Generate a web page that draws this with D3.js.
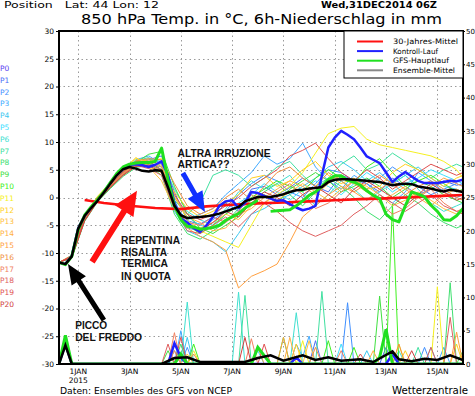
<!DOCTYPE html>
<html>
<head>
<meta charset="utf-8">
<script src="https://cdn.jsdelivr.net/npm/d3@7"></script>
<style>
  body { margin: 0; background: #fff; }
  svg { display: block; font-family: "DejaVu Sans", sans-serif; }
</style>
</head>
<body>
<div id="chart"></div>
<script>
// day offsets from 1 Jan 2015 00Z, run starts 31 Dec 06Z
const mainDays = d3.range(64).map(i => -0.75 + i * 0.25);      // 6-hourly
const memberDays = d3.range(32).map(i => -0.75 + i * 0.5).concat([15]); // 12-hourly

const tickDays = [0, 2, 4, 6, 8, 10, 12, 14];
const tickNames = ["1JAN", "3JAN", "5JAN", "7JAN", "9JAN", "11JAN", "13JAN", "15JAN"];
const tempTicks = [30, 25, 20, 15, 10, 5, 0, -5, -10, -15, -20, -25, -30];
const rainTicks = [50, 45, 40, 35, 30, 25, 20, 15, 10, 5, 0];

const climDays = [0.25, 1, 2, 3, 4, 5, 6, 7, 8, 9, 10, 11, 12, 13, 14, 15];
const climTemp = [-0.45, -1.0, -1.5, -1.9, -2.1, -1.6, -1.3, -1.05, -0.9, -0.7, -0.5, -0.3, -0.15, 0.05, 0.25, 0.45];

const tempGfs = [-11.7, -12.1, -10.6, -5.8, -3.2, -1.7, -0.4, 1.0, 2.7, 4.3, 5.5, 6.0, 6.2, 6.3, 6.3, 6.5,
  8.9, 3.2, -1.5, -4.0, -5.2, -5.3, -5.7, -5.6, -5.4, -5.0, -4.1, -3.5, -2.9, -1.9, -1.2, -0.5,
  null, -2.5, -2.4, -2.3, -2.2, -1.5, -0.6, 0.4, 1.0, 2.0, 3.2, 3.9, 3.9, 3.1, 2.8, 2.2,
  1.2, 0.4, -0.2, -3.0, -4.0, -4.4, -1.5, 1.0, 0.6, 0.1, -1.4, -2.5, -4.0, -4.1, -3.3, -2.0];
const tempControl = [-11.7, -12.0, -10.5, -5.5, -3.3, -1.8, -0.5, 1.0, 2.6, 4.2, 5.3, 5.9, 6.0, 5.8, 5.5, 5.9,
  6.5, 4.0, -1.0, -3.8, -4.5, -5.5, -6.2, -5.0, -3.5, -1.5, -0.7, -0.5, -1.9, -1.0, 1.0, 0.8,
  0.3, -0.2, -0.6, -0.5, -1.2, -1.8, -2.3, -2.0, -1.5, 4.0, 9.0, 10.8, 12.0, 11.3, 10.5, 9.0,
  7.4, 6.8, 6.2, 4.5, 2.8, 3.8, 4.6, 3.8, 3.0, 2.6, 2.6, 2.6, 2.8, 3.0, 2.9, 3.2];
const tempMean = [-11.7, -12.0, -10.6, -5.6, -3.3, -1.9, -0.6, 0.9, 2.5, 4.0, 5.1, 5.5, 5.2, 4.8, 4.7, 4.9,
  4.8, 1.8, -1.5, -3.2, -3.7, -3.6, -3.5, -3.4, -3.2, -2.9, -2.5, -2.1, -1.7, -0.7, -0.3, 0.1,
  0.1, 0.1, 0.3, 0.6, 1.0, 1.3, 1.4, 1.6, 1.7, 1.9, 2.8, 3.2, 3.3, 3.3, 3.2, 3.1,
  3.0, 2.9, 2.8, 2.5, 2.2, 2.4, 2.5, 2.4, 2.0, 1.8, 1.6, 1.3, 1.1, 1.4, 1.2, 1.0];

const tempP1 = [-11.7, -10.6, -3.8, -0.3, 2.2, 4.4, 6.0, 6.8, 7.5, 1.0, -4.2, -4.8, -3.5, -1.0, -2.5, 1.5, 2.0, 0.5, 1.8, 3.5, 2.0, 1.0, 4.0, 3.2, 2.5, 1.0, 3.5, 2.0, 0.5, 1.5, 3.0, 2.2, 2.5];
const tempP2 = [-11.7, -10.8, -4.0, -0.5, 2.0, 4.6, 6.5, 6.0, 5.5, -0.5, -5.5, -6.0, -4.0, -2.5, 0.5, 2.5, 4.0, 3.0, 1.0, 0.0, 2.5, 5.0, 4.5, 3.0, 1.5, 3.5, 5.5, 4.0, 2.0, 0.5, 1.5, 2.5, 2.0];
const tempP3 = [-11.7, -10.4, -3.5, 0.0, 2.4, 4.8, 6.8, 7.5, 6.0, -1.5, -4.0, -3.0, -2.0, 0.5, 2.5, 4.5, 7.5, 6.0, 7.0, 9.8, 5.5, 3.0, 1.5, 4.0, 2.5, 0.5, -1.0, 1.0, 4.5, 3.0, 1.0, 0.0, 0.5];
const tempP4 = [-11.7, -10.7, -4.2, -0.6, 1.8, 4.0, 5.8, 6.2, 4.5, -2.5, -6.0, -7.0, -8.0, -9.8, -6.5, -3.0, -2.0, -0.5, 0.5, 2.0, 3.5, 5.5, 6.5, 5.0, 3.0, 4.5, 2.5, 4.0, 5.5, 3.5, 2.0, 1.5, 1.0];
const tempP5 = [-11.7, -10.5, -3.6, -0.2, 2.3, 4.5, 6.2, 6.5, 5.0, 0.0, -3.5, -5.0, -5.5, -3.0, -1.0, 0.5, 2.5, 1.0, -0.5, 1.5, 3.0, 2.0, 0.5, 2.5, 4.5, 3.0, 1.0, 2.5, 3.5, 5.0, 4.0, 3.0, 2.5];
const tempP6 = [-11.7, -10.6, -3.9, -0.4, 2.1, 4.3, 6.1, 7.0, 6.5, 1.5, -2.5, -4.0, -5.0, -2.0, 1.0, 3.0, 1.5, 2.5, 4.0, 1.0, -1.5, 0.5, 3.0, 1.5, -0.5, 1.0, 2.5, 4.0, 1.5, -1.0, -2.5, -1.5, -1.0];
const tempP7 = [-11.7, -10.5, -3.4, 0.1, 2.6, 5.0, 6.6, 7.2, 5.5, -0.5, -3.0, -1.0, 4.0, 5.0, 4.0, 2.0, 3.5, 5.5, 6.5, 4.0, 2.0, 3.5, 6.0, 7.5, 5.0, 6.0, 8.0, 6.5, 5.0, 3.5, 5.0, 6.0, 5.5];
const tempP8 = [-11.7, -10.9, -4.3, -0.8, 1.6, 3.8, 5.4, 5.8, 4.0, -3.0, -6.5, -7.5, -6.0, -4.5, -2.0, -0.5, 1.0, 2.5, 0.5, -1.5, 1.0, 3.5, 2.0, 0.0, -2.5, -4.0, -1.5, 0.5, -1.0, -3.0, -4.5, -5.5, -5.0];
const tempP9 = [-11.7, -10.6, -3.7, -0.2, 2.2, 4.4, 6.3, 7.8, 8.3, 2.0, -3.0, -5.5, -6.5, -5.0, -3.5, -1.0, 0.5, -1.0, 1.5, 3.0, 4.5, 3.0, 1.0, 2.0, 3.5, 2.0, 0.0, 1.5, 3.0, 2.0, 0.5, -0.5, -1.0];
const tempP10 = [-11.7, -10.7, -4.0, -0.5, 2.0, 4.2, 5.9, 6.0, 5.0, -1.0, -5.0, -6.5, -5.0, -3.0, -1.5, 0.0, 1.5, 3.0, 2.0, 1.0, 3.5, 5.0, 3.5, 2.5, 5.5, 7.0, 4.5, 2.0, 3.0, 4.0, 2.5, 1.0, 1.5];
const tempP11 = [-11.7, -10.4, -3.3, 0.2, 2.7, 5.2, 7.0, 6.5, 7.0, 0.5, -4.0, -6.0, -7.0, -8.0, -9.0, -5.0, -1.0, 0.5, 2.0, 4.5, 8.0, 11.5, 12.5, 12.8, 10.5, 9.5, 9.0, 8.5, 8.0, 7.5, 6.5, 5.0, 3.5];
const tempP12 = [-11.7, -10.5, -3.5, 0.0, 2.5, 5.0, 7.2, 5.5, 4.5, 1.0, -2.0, -3.5, -2.5, -1.0, 0.5, 3.5, 4.0, 2.0, 3.0, 5.0, 6.5, 4.0, 2.5, 3.5, 1.5, 2.0, 4.5, 6.0, 5.0, 3.5, 2.0, 3.5, 4.0];
const tempP13 = [-11.7, -10.8, -4.1, -0.7, 1.9, 4.1, 5.7, 5.5, 3.0, -2.0, -5.0, -5.5, -4.5, -3.0, -4.0, -1.5, 0.5, -0.5, 1.0, 2.5, 1.0, -0.5, 1.5, 3.0, 2.0, 0.5, -1.5, -0.5, 1.0, -0.5, -2.0, -3.0, -2.5];
const tempP14 = [-11.7, -10.6, -3.8, -0.3, 2.2, 4.5, 6.4, 6.8, 5.8, 0.0, -3.5, -4.5, -6.0, -5.5, -3.0, -2.0, 0.0, 1.5, 3.0, 2.0, 0.5, 2.5, 4.0, 2.5, 1.0, -0.5, 0.5, 2.0, 0.0, -1.5, 0.5, 1.5, 1.0];
const tempP15 = [-11.7, -10.7, -4.0, -0.5, 2.0, 4.3, 6.0, 6.3, 5.5, -1.0, -5.5, -7.0, -8.0, -9.5, -16.3, -14.2, -13.2, -12.0, -8.0, -3.5, -1.5, 0.5, 2.0, 1.0, -0.5, 1.5, 3.0, 1.5, 0.0, 2.0, 3.5, 2.5, 2.0];
const tempP16 = [-11.7, -10.5, -3.6, -0.1, 2.4, 4.7, 6.6, 7.0, 6.8, 2.5, -1.5, -3.0, -2.0, 0.0, 1.5, -0.5, 2.0, 4.5, 5.5, 3.5, 2.0, 4.5, 3.0, 1.0, 2.5, 4.0, 2.5, 0.5, 2.0, 3.0, 1.5, 0.0, -0.5];
const tempP17 = [-11.7, -10.6, -3.9, -0.4, 2.1, 4.4, 6.2, 6.0, 4.8, -1.5, -4.5, -5.0, -3.5, -4.5, -2.5, 0.5, -1.0, 1.0, 2.5, 0.5, -2.0, -1.0, 1.0, 3.0, 1.5, -1.0, -3.0, -2.0, 0.0, 1.5, -1.0, -2.5, -2.0];
const tempP18 = [-11.7, -10.7, -4.1, -0.6, 1.9, 4.1, 5.8, 5.2, 4.0, -2.0, -6.0, -6.5, -5.0, -3.5, -5.3, -3.0, -1.0, -2.5, -4.5, -6.0, -7.0, -6.0, -5.0, -3.0, -1.5, 0.5, -1.0, -2.5, -1.0, 0.5, -1.5, -2.5, -3.0];
const tempP19 = [-11.7, -10.5, -3.6, 0.0, 2.4, 4.6, 6.4, 6.5, 5.0, 0.5, -3.0, -4.0, -3.0, -1.5, 0.0, 2.0, 3.5, 5.0, 7.5, 8.5, 9.8, 7.0, 4.5, 3.0, 5.0, 3.5, 1.5, 3.0, 4.5, 6.0, 5.0, 4.0, 4.5];
const tempP20 = [-11.7, -10.8, -4.2, -0.7, 1.8, 4.0, 5.6, 5.8, 4.5, -1.5, -5.0, -6.0, -4.5, -2.5, -3.5, -1.0, 1.0, 0.0, -1.5, 0.5, 2.0, 0.5, -1.0, 1.5, 3.0, 1.5, 0.0, -1.5, 0.5, 2.5, 1.0, -0.5, 0.0];

// 6h precipitation, [day, mm]
const rainGfs = [[-0.75, 0], [-0.5, 4.3], [-0.25, 0], [3.75, 0], [4, 1.5], [4.25, 0], [6.75, 0], [7, 2.5], [7.5, 0], [11.5, 0], [11.75, 1.0], [12, 5.2], [12.25, 0], [15, 0]];
const rainControl = [[-0.75, 0], [-0.5, 3.0], [-0.25, 0], [3.5, 0], [3.75, 3.1], [4, 1.0], [4.25, 0], [8.25, 0], [8.5, 1.0], [8.75, 0], [12, 0], [12.25, 1.5], [12.5, 0], [15, 0]];
const rainMean = [[-0.75, 0], [-0.5, 2.8], [-0.25, 0], [3.25, 0], [3.75, 0.9], [4.25, 1.0], [4.75, 0.3], [6.5, 0.3], [7, 0.9], [7.5, 1.3], [8, 0.5], [8.75, 1.3], [9.25, 0.6], [9.75, 1.0], [10.25, 0.5], [11, 0.7], [11.5, 0.3], [12.25, 1.9], [12.5, 0.7], [13, 0.4], [13.5, 0.8], [14, 0.6], [14.5, 1.3], [15, 0.6]];
const rainP1 = [[-0.75, 0], [-0.5, 3.2], [-0.25, 0], [3.5, 0], [3.75, 2.0], [4, 0], [9, 0], [9.25, 3.5], [9.5, 0], [11.75, 0], [12, 2.5], [12.25, 0], [15, 0]];
const rainP2 = [[-0.75, 0], [-0.5, 3.0], [-0.25, 0], [4, 0], [4.25, 2.5], [4.5, 0], [10.25, 0], [10.5, 9.2], [10.75, 0], [13.25, 0], [13.5, 2.5], [13.75, 0], [15, 0]];
const rainP3 = [[-0.75, 0], [-0.5, 3.0], [-0.25, 0], [3.75, 0], [4, 5.0], [4.25, 0], [8.25, 0], [8.5, 3.0], [8.75, 1.0], [9, 4.2], [9.25, 0], [14, 0], [14.25, 2.5], [14.5, 0], [15, 0]];
const rainP4 = [[-0.75, 0], [-0.5, 3.0], [-0.25, 0], [4, 0], [4.25, 4.0], [4.5, 0], [11, 0], [11.25, 2.0], [11.5, 0], [13.5, 0], [13.75, 2.5], [14, 0], [15, 0]];
const rainP5 = [[-0.75, 0], [-0.5, 3.0], [-0.25, 0], [3.75, 0], [4, 1.5], [4.25, 0], [6.75, 0], [7, 2.0], [7.25, 0], [10, 0], [10.25, 3.0], [10.5, 0], [15, 0]];
const rainP6 = [[-0.75, 0], [-0.5, 3.0], [-0.25, 0], [4, 0], [4.25, 9.3], [4.5, 0], [6, 0], [6.25, 10.8], [6.5, 0], [8.25, 0], [8.5, 7.7], [8.75, 0], [12.25, 0], [12.5, 2.0], [12.75, 0], [15, 0]];
const rainP7 = [[-0.75, 0], [-0.5, 3.3], [-0.25, 0], [6.25, 0], [6.5, 10.3], [6.75, 0], [9.25, 0], [9.5, 10.9], [9.75, 0], [13, 0], [13.25, 2.5], [13.5, 0], [15, 0]];
const rainP8 = [[-0.75, 0], [-0.5, 3.5], [-0.25, 0], [3.75, 0], [4, 3.0], [4.25, 0], [14.25, 0], [14.5, 12.2], [14.75, 0], [15, 0]];
const rainP9 = [[-0.75, 0], [-0.5, 3.6], [-0.25, 0], [3.25, 0], [3.5, 2.0], [3.75, 0], [7.75, 0], [8, 4.0], [8.25, 0], [11.5, 0], [11.75, 10.2], [12, 0], [14.75, 0], [15, 2.0]];
const rainP10 = [[-0.75, 0], [-0.5, 4.0], [-0.25, 0], [4.25, 0], [4.5, 3.0], [4.75, 0], [9.5, 0], [9.75, 3.5], [10, 0], [10.5, 0], [10.75, 2.5], [11, 0], [12, 0], [12.25, 24.0], [12.5, 0], [15, 0]];
const rainP11 = [[-0.75, 0], [-0.5, 3.0], [-0.25, 0], [4.25, 0], [4.5, 2.0], [4.75, 0], [8.5, 0], [8.75, 3.5], [9, 0], [12.25, 0], [12.5, 3.0], [12.75, 0], [13.75, 0], [14, 11.6], [14.25, 0], [15, 0]];
const rainP12 = [[-0.75, 0], [-0.5, 3.0], [-0.25, 0], [8.25, 0], [8.5, 3.0], [8.75, 0], [12.5, 0], [12.75, 2.0], [13, 0], [14.5, 0], [14.75, 3.0], [15, 0]];
const rainP13 = [[-0.75, 0], [-0.5, 3.0], [-0.25, 0], [4, 0], [4.25, 1.5], [4.5, 0], [8.75, 0], [9, 3.5], [9.25, 0], [15, 0]];
const rainP14 = [[-0.75, 0], [-0.5, 3.0], [-0.25, 0], [8, 0], [8.25, 4.0], [8.5, 0], [11.25, 0], [11.5, 2.0], [11.75, 0], [15, 0]];
const rainP15 = [[-0.75, 0], [-0.5, 3.2], [-0.25, 0], [3.5, 0], [3.75, 2.0], [4, 0], [6.75, 0], [7, 2.5], [7.25, 0], [7.75, 0], [8, 4.0], [8.25, 0], [14.5, 0], [14.75, 4.8], [15, 0]];
const rainP16 = [[-0.75, 0], [-0.5, 3.0], [-0.25, 0], [4.25, 0], [4.5, 1.5], [4.75, 0], [9, 0], [9.25, 2.5], [9.5, 0], [12.25, 0], [12.5, 3.0], [12.75, 0], [15, 0]];
const rainP17 = [[-0.75, 0], [-0.5, 3.4], [-0.25, 0], [3.5, 0], [3.75, 4.7], [4, 0], [6.5, 0], [6.75, 3.8], [7, 0], [10, 0], [10.25, 2.0], [10.5, 0], [15, 0]];
const rainP18 = [[-0.75, 0], [-0.5, 3.5], [-0.25, 0], [3.25, 0], [3.5, 3.0], [3.75, 0], [13.5, 0], [13.75, 2.5], [14, 0], [14.25, 0], [14.5, 7.0], [14.75, 0], [15, 0]];
const rainP19 = [[-0.75, 0], [-0.5, 3.8], [-0.25, 0], [3.75, 0], [4, 4.0], [4.25, 0], [7, 0], [7.25, 3.0], [7.5, 0], [10.75, 0], [11, 1.5], [11.25, 0], [15, 0]];
const rainP20 = [[-0.75, 0], [-0.5, 3.6], [-0.25, 0], [6.25, 0], [6.5, 4.0], [6.75, 0], [12.75, 0], [13, 2.0], [13.25, 0], [15, 0]];

const memberTemps = [tempP1, tempP2, tempP3, tempP4, tempP5, tempP6, tempP7, tempP8, tempP9, tempP10,
  tempP11, tempP12, tempP13, tempP14, tempP15, tempP16, tempP17, tempP18, tempP19, tempP20];
const memberRains = [rainP1, rainP2, rainP3, rainP4, rainP5, rainP6, rainP7, rainP8, rainP9, rainP10,
  rainP11, rainP12, rainP13, rainP14, rainP15, rainP16, rainP17, rainP18, rainP19, rainP20];

const memberNames = d3.range(21).map(i => "P" + i);
const memberColors = ["#5a3cf0", "#4a6cf5", "#3f8fff", "#40aaff", "#3cc8f0", "#40e0ff", "#40e0d0", "#40e0a0",
  "#40e070", "#40e040", "#40f020", "#f5f020", "#ffd020", "#ffc040", "#ffb040", "#ffa040",
  "#f09040", "#f08060", "#e06060", "#e05050", "#d04040"];

const legendNames = ["30-Jahres-Mittel", "Kontroll-Lauf", "GFS-Hauptlauf", "Ensemble-Mittel"];
const legendColors = ["#ff1010", "#2020ff", "#20e020", "#888888"];

const width = 475;
const height = 396;

const svg = d3.select("#chart")
    .append("svg")
    .attr("width", width)
    .attr("height", height)
    .style("background", "#fff");

const x = d3.scaleLinear().domain([-0.75, 15]).range([59, 463]);
const yT = d3.scaleLinear().domain([-30, 30]).range([364, 31]);
const yP = d3.scaleLinear().domain([0, 50]).range([364, 31]);

svg.append("clipPath").attr("id", "plot")
    .append("rect")
    .attr("x", x(-0.75)).attr("y", yT(30))
    .attr("width", x(15) - x(-0.75)).attr("height", yT(-30) - yT(30));

// grid
const grid = svg.append("g")
    .attr("stroke", "#9a9a9a")
    .attr("stroke-width", 1)
    .attr("stroke-dasharray", "1.5,3");

grid.selectAll(".gv")
    .data(tickDays)
    .enter()
    .append("line")
    .attr("x1", d => Math.round(x(d)) + 0.5).attr("x2", d => Math.round(x(d)) + 0.5)
    .attr("y1", yT(30)).attr("y2", yT(-30));

grid.selectAll(".gh")
    .data(tempTicks.filter(d => d > -30 && d < 30))
    .enter()
    .append("line")
    .attr("x1", x(-0.75)).attr("x2", x(15))
    .attr("y1", d => Math.round(yT(d)) + 0.5).attr("y2", d => Math.round(yT(d)) + 0.5);

const plot = svg.append("g").attr("clip-path", "url(#plot)");

const tLine = d3.line()
    .defined(d => d[1] != null)
    .x(d => x(d[0]))
    .y(d => yT(d[1]));

const pLine = d3.line()
    .x(d => x(d[0]))
    .y(d => yP(d[1]));

// members: precipitation then temperature
plot.selectAll(".rain")
    .data(memberRains)
    .enter()
    .append("path")
    .attr("d", d => pLine(d))
    .attr("fill", "none")
    .attr("stroke", (d, i) => memberColors[i + 1])
    .attr("stroke-width", 1);

plot.selectAll(".member")
    .data(memberTemps)
    .enter()
    .append("path")
    .attr("d", d => tLine(d3.zip(memberDays, d)))
    .attr("fill", "none")
    .attr("stroke", (d, i) => memberColors[i + 1])
    .attr("stroke-width", 1);

// climatology
plot.append("path")
    .attr("d", tLine(d3.zip(climDays, climTemp)))
    .attr("fill", "none")
    .attr("stroke", "#ff1010")
    .attr("stroke-width", 2.6);

// control, main run, ensemble mean
const mainRuns = [
    {temp: tempControl, rain: rainControl, color: "#2020ff", w: 2.5},
    {temp: tempGfs, rain: rainGfs, color: "#20e020", w: 3},
    {temp: tempMean, rain: rainMean, color: "#000000", w: 2.5}
];

mainRuns.forEach(r => {
    plot.append("path")
        .attr("d", pLine(r.rain))
        .attr("fill", "none")
        .attr("stroke", r.color)
        .attr("stroke-width", r.w);
    plot.append("path")
        .attr("d", tLine(d3.zip(mainDays, r.temp)))
        .attr("fill", "none")
        .attr("stroke", r.color)
        .attr("stroke-width", r.w)
        .attr("stroke-linejoin", "round");
});

// frame
svg.append("rect")
    .attr("x", x(-0.75)).attr("y", yT(30))
    .attr("width", x(15) - x(-0.75)).attr("height", yT(-30) - yT(30))
    .attr("fill", "none")
    .attr("stroke", "#000")
    .attr("stroke-width", 2);

// axes
const leftAxis = svg.append("g")
    .attr("transform", `translate(${x(-0.75)},0)`)
    .call(d3.axisLeft(yT).tickValues(tempTicks).tickSize(3).tickPadding(2).tickFormat(d => d));
const rightAxis = svg.append("g")
    .attr("transform", `translate(${x(15)},0)`)
    .call(d3.axisRight(yP).tickValues(rainTicks).tickSize(2).tickPadding(1).tickFormat(d => d));

[leftAxis, rightAxis].forEach(a => {
    a.select(".domain").remove();
    a.selectAll("text")
        .attr("font-family", "DejaVu Sans, sans-serif")
        .attr("font-size", 7.5)
        .attr("fill", "#000");
});
rightAxis.selectAll("text").attr("font-size", 7);

const dates = svg.append("g")
    .attr("font-size", 7.5)
    .attr("text-anchor", "middle");

dates.selectAll("text")
    .data(tickNames)
    .enter()
    .append("text")
    .attr("x", (d, i) => x(tickDays[i]))
    .attr("y", 374)
    .text(d => d);

dates.append("text")
    .attr("x", x(0))
    .attr("y", 383)
    .text("2015");

// legend
const legend = svg.append("g");
legend.append("rect")
    .attr("x", 344).attr("y", 31)
    .attr("width", 119).attr("height", 47)
    .attr("fill", "#fff")
    .attr("stroke", "#000")
    .attr("stroke-width", 1);

const legendRows = legend.selectAll(".row")
    .data(legendNames)
    .enter()
    .append("g")
    .attr("transform", (d, i) => `translate(0,${41.5 + i * 9.6})`);

legendRows.append("line")
    .attr("x1", 357).attr("x2", 383)
    .attr("stroke", (d, i) => legendColors[i])
    .attr("stroke-width", 2);

legendRows.append("text")
    .attr("x", 393)
    .attr("y", 2.7)
    .attr("font-size", 7.5)
    .attr("textLength", (d, i) => [65, 45, 56, 62][i])
    .attr("lengthAdjust", "spacingAndGlyphs")
    .text(d => d);

// member labels at the left
svg.append("g")
    .selectAll("text")
    .data(memberNames)
    .enter()
    .append("text")
    .attr("x", 0)
    .attr("y", (d, i) => 71 + i * 11.8)
    .attr("font-size", 7.5)
    .attr("fill", (d, i) => memberColors[i])
    .text(d => d);

// header and footer
svg.append("text")
    .attr("x", 4).attr("y", 8)
    .attr("font-size", 9)
    .attr("textLength", 155)
    .attr("lengthAdjust", "spacingAndGlyphs")
    .style("white-space", "pre")
    .text("Position   Lat: 44 Lon: 12");

svg.append("text")
    .attr("x", 321).attr("y", 8)
    .attr("font-size", 9)
    .attr("font-weight", "bold")
    .attr("textLength", 116)
    .attr("lengthAdjust", "spacingAndGlyphs")
    .text("Wed,31DEC2014 06Z");

svg.append("text")
    .attr("x", 81).attr("y", 23.5)
    .attr("font-size", 14)
    .attr("textLength", 361)
    .attr("lengthAdjust", "spacingAndGlyphs")
    .text("850 hPa Temp. in °C, 6h-Niederschlag in mm");

svg.append("text")
    .attr("x", 60).attr("y", 394)
    .attr("font-size", 8)
    .attr("textLength", 172)
    .attr("lengthAdjust", "spacingAndGlyphs")
    .text("Daten: Ensembles des GFS von NCEP");

svg.append("text")
    .attr("x", 392).attr("y", 394)
    .attr("font-size", 10)
    .attr("textLength", 76)
    .attr("lengthAdjust", "spacingAndGlyphs")
    .text("Wetterzentrale");

// annotations (in day / deg C)
const arrows = [
    {from: [0.54, -11.6], to: [2.29, 1.2], color: "#ff1010", sw: 6, hl: 24, hw: 22},
    {from: [4.08, 4.4], to: [4.94, -2.6], color: "#1030ff", sw: 5, hl: 20, hw: 17},
    {from: [1.0, -22.1], to: [-0.4, -12.0], color: "#000000", sw: 5, hl: 20, hw: 17}
];

const arrowPoints = a => {
    const x1 = x(a.from[0]), y1 = yT(a.from[1]), x2 = x(a.to[0]), y2 = yT(a.to[1]);
    const len = Math.hypot(x2 - x1, y2 - y1);
    const ux = (x2 - x1) / len, uy = (y2 - y1) / len;
    const nx = -uy, ny = ux;
    const bx = x2 - ux * a.hl, by = y2 - uy * a.hl;
    return [
        [x1 + nx * a.sw / 2, y1 + ny * a.sw / 2],
        [bx + nx * a.sw / 2, by + ny * a.sw / 2],
        [bx + nx * a.hw / 2, by + ny * a.hw / 2],
        [x2, y2],
        [bx - nx * a.hw / 2, by - ny * a.hw / 2],
        [bx - nx * a.sw / 2, by - ny * a.sw / 2],
        [x1 - nx * a.sw / 2, y1 - ny * a.sw / 2]
    ].join(" ");
};

svg.selectAll(".arrow")
    .data(arrows)
    .enter()
    .append("polygon")
    .attr("points", arrowPoints)
    .attr("fill", d => d.color);

const notes = [
    {text: "ALTRA IRRUZIONE", at: [3.87, 7.3], w: 93},
    {text: "ARTICA??", at: [3.87, 5.4], w: 52},
    {text: "REPENTINA", at: [1.67, -8.4], w: 59},
    {text: "RISALITA", at: [1.67, -10.5], w: 46},
    {text: "TERMICA", at: [1.67, -12.6], w: 47},
    {text: "IN QUOTA", at: [1.67, -14.9], w: 50},
    {text: "PICCO", at: [-0.12, -23.7], w: 32},
    {text: "DEL FREDDO", at: [-0.12, -25.8], w: 67}
];

svg.selectAll(".note")
    .data(notes)
    .enter()
    .append("text")
    .attr("x", d => x(d.at[0]))
    .attr("y", d => yT(d.at[1]))
    .attr("font-family", "Liberation Sans, Arial, sans-serif")
    .attr("font-weight", "bold")
    .attr("font-size", 11.5)
    .attr("textLength", d => d.w)
    .attr("lengthAdjust", "spacingAndGlyphs")
    .attr("fill", "#111")
    .text(d => d.text);
</script>
</body>
</html>
